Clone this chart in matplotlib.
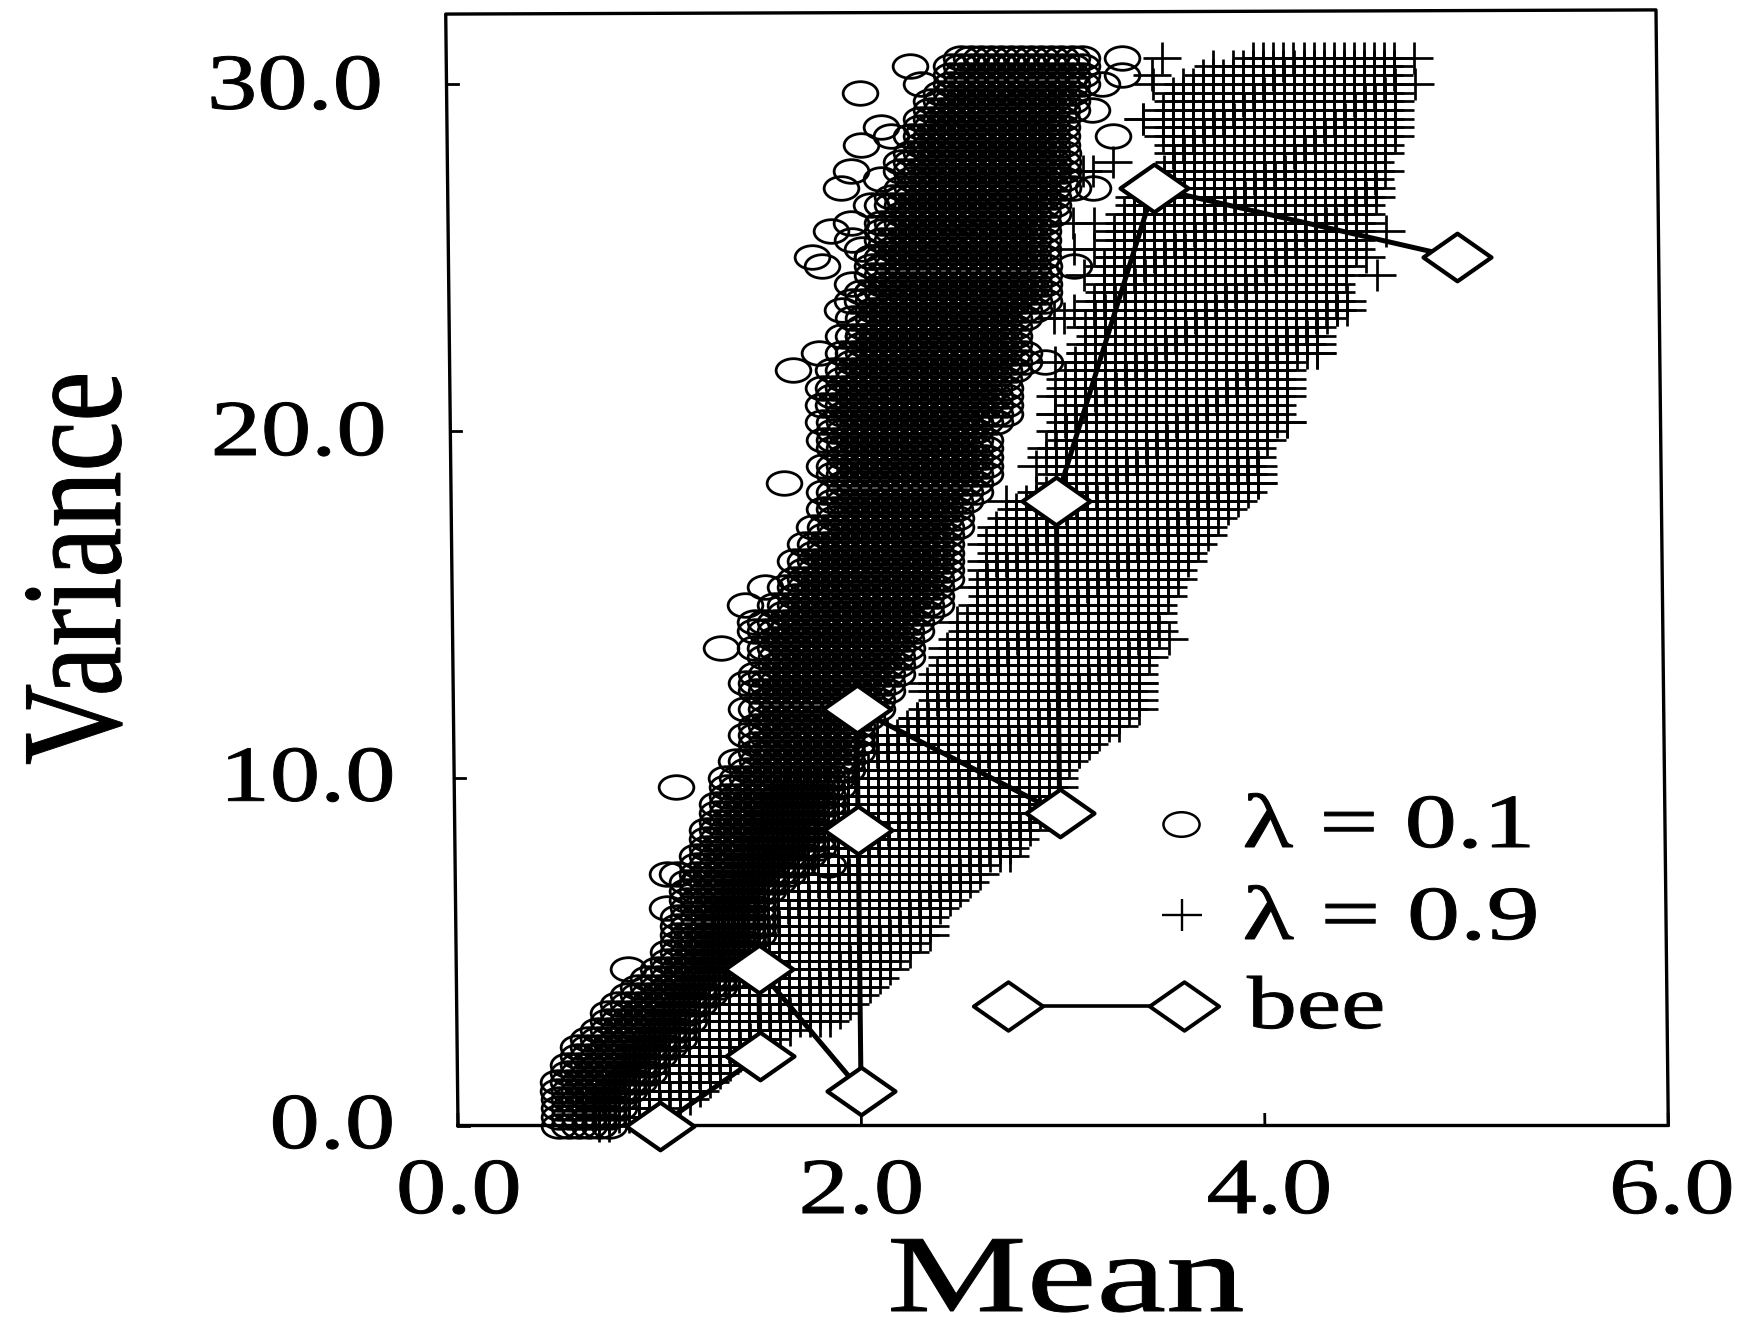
import numpy as np
import matplotlib
matplotlib.use("Agg")
import matplotlib.pyplot as plt
import matplotlib.patheffects as pe
from matplotlib.path import Path
from matplotlib.transforms import Affine2D

# Both clouds sit on a lattice (mean step 0.05, variance step 0.25). Each row below
# holds the first and last occupied mean, 4 rows per unit of variance.
row_variance = np.arange(124) * 0.25

plus_left = [
    0.70, 0.70, 0.70, 0.75, 0.75, 0.80, 0.85, 0.85, 0.90, 0.90, 0.95, 1.00,
    1.05, 1.05, 1.10, 1.15, 1.15, 1.20, 1.25, 1.25, 1.25, 1.30, 1.30, 1.30,
    1.30, 1.35, 1.35, 1.40, 1.40, 1.40, 1.45, 1.45, 1.50, 1.50, 1.55, 1.55,
    1.55, 1.60, 1.60, 1.65, 2.05, 2.05, 2.10, 2.10, 2.10, 2.10, 2.25, 2.30,
    2.35, 2.40, 2.35, 2.45, 2.40, 2.45, 2.45, 2.50, 2.50, 2.55, 2.55, 2.60,
    2.60, 2.65, 2.60, 2.65, 2.65, 2.65, 2.70, 2.65, 2.70, 2.70, 2.75, 2.80,
    2.85, 2.90, 3.00, 3.00, 3.00, 3.05, 2.95, 3.05, 3.00, 3.05, 3.05, 3.10,
    3.00, 3.05, 3.05, 3.10, 3.10, 3.15, 3.15, 3.20, 3.15, 3.20, 3.20, 3.25,
    3.25, 3.25, 3.25, 3.25, 3.30, 3.30, 3.30, 3.30, 3.35, 3.35, 3.40, 3.40,
    3.45, 3.50, 3.55, 3.60, 3.60, 3.60, 3.55, 3.55, 3.55, 3.55, 3.60, 3.60,
    3.70, 3.75, 3.90, 4.00,
]
plus_right = [
    0.75, 0.85, 1.00, 1.15, 1.20, 1.25, 1.30, 1.35, 1.45, 1.50, 1.55, 1.65,
    1.85, 1.90, 1.95, 2.00, 2.05, 2.10, 2.15, 2.15, 2.25, 2.25, 2.35, 2.35,
    2.35, 2.40, 2.45, 2.50, 2.55, 2.60, 2.60, 2.75, 2.75, 2.80, 2.85, 2.85,
    2.90, 2.90, 2.95, 3.00, 3.00, 3.00, 3.05, 3.10, 3.15, 3.20, 3.30, 3.30,
    3.35, 3.40, 3.40, 3.40, 3.40, 3.40, 3.45, 3.45, 3.45, 3.50, 3.50, 3.50,
    3.50, 3.55, 3.55, 3.60, 3.60, 3.65, 3.65, 3.70, 3.75, 3.75, 3.80, 3.85,
    3.90, 3.95, 4.00, 4.00, 4.00, 4.00, 4.00, 4.05, 4.05, 4.15, 4.10, 4.10,
    4.15, 4.15, 4.15, 4.15, 4.15, 4.30, 4.30, 4.30, 4.30, 4.35, 4.40, 4.45,
    4.40, 4.40, 4.45, 4.45, 4.45, 4.50, 4.50, 4.50, 4.55, 4.55, 4.55, 4.60,
    4.60, 4.60, 4.60, 4.60, 4.65, 4.65, 4.70, 4.70, 4.70, 4.70, 4.70, 4.70,
    4.70, 4.70, 4.70, 4.70,
]
circle_left = [
    0.50, 0.50, 0.50, 0.50, 0.50, 0.50, 0.55, 0.55, 0.60, 0.60, 0.65, 0.70,
    0.75, 0.75, 0.80, 0.85, 0.90, 0.95, 1.00, 1.05, 1.05, 1.10, 1.10, 1.10,
    1.10, 1.15, 1.15, 1.15, 1.15, 1.20, 1.20, 1.20, 1.25, 1.25, 1.25, 1.30,
    1.30, 1.30, 1.35, 1.35, 1.35, 1.45, 1.40, 1.50, 1.50, 1.45, 1.50, 1.55,
    1.45, 1.55, 1.50, 1.45, 1.50, 1.60, 1.55, 1.50, 1.60, 1.50, 1.55, 1.65,
    1.60, 1.70, 1.65, 1.70, 1.75, 1.70, 1.80, 1.75, 1.85, 1.80, 1.90, 1.85,
    1.90, 1.85, 1.95, 1.90, 1.85, 1.95, 1.90, 1.85, 1.90, 1.85, 1.95, 1.85,
    1.90, 1.85, 1.95, 1.90, 2.00, 1.95, 2.05, 1.95, 2.05, 2.00, 2.10, 2.05,
    2.05, 2.15, 2.10, 2.10, 2.10, 2.20, 2.15, 2.15, 2.15, 2.25, 2.15, 2.20,
    2.25, 2.30, 2.25, 2.30, 2.30, 2.35, 2.30, 2.35, 2.35, 2.40, 2.40, 2.45,
    2.50, 2.50, 2.50, 2.55,
]
circle_right = [
    0.75, 0.75, 0.80, 0.80, 0.85, 0.90, 0.95, 0.95, 1.00, 1.05, 1.10, 1.10,
    1.15, 1.15, 1.20, 1.25, 1.30, 1.35, 1.40, 1.40, 1.45, 1.45, 1.50, 1.50,
    1.50, 1.50, 1.50, 1.55, 1.60, 1.65, 1.70, 1.75, 1.80, 1.80, 1.80, 1.80,
    1.85, 1.85, 1.85, 1.90, 1.90, 1.95, 1.95, 2.00, 2.00, 2.00, 2.00, 2.05,
    2.10, 2.10, 2.15, 2.15, 2.20, 2.20, 2.25, 2.25, 2.25, 2.30, 2.30, 2.35,
    2.40, 2.40, 2.40, 2.45, 2.45, 2.45, 2.45, 2.45, 2.45, 2.50, 2.50, 2.50,
    2.55, 2.60, 2.60, 2.65, 2.65, 2.65, 2.65, 2.65, 2.60, 2.70, 2.75, 2.75,
    2.75, 2.75, 2.75, 2.80, 2.85, 2.85, 2.80, 2.80, 2.80, 2.85, 2.90, 2.95,
    2.95, 2.95, 2.95, 2.95, 2.95, 2.95, 2.95, 2.95, 2.95, 3.00, 3.00, 3.00,
    3.05, 3.05, 3.05, 3.05, 3.05, 3.05, 3.05, 3.05, 3.05, 3.10, 3.10, 3.10,
    3.15, 3.15, 3.15, 3.15,
]

# marks that stand apart from the filled rows
circle_extra_mean = [0.85, 1.05, 1.05, 1.10, 1.85, 1.10, 1.65, 1.70, 1.55, 1.33, 1.83, 2.05, 2.30, 2.35, 2.15,
                     2.05, 2.00, 1.95, 2.00, 1.90, 2.00, 1.80, 1.85, 2.10, 2.00, 2.00, 3.35, 3.35, 3.30, 3.25,
                     3.20, 3.10, 3.20, 3.10, 2.95, 2.20, 2.25, 2.15, 2.10, 2.05, 2.10, 2.05, 1.95, 1.45, 1.50]
circle_extra_var = [4.50, 6.25, 7.25, 7.25, 7.50, 9.75, 18.50, 21.75, 15.50, 13.75, 22.25, 29.75, 30.50, 30.00,
                    28.75, 28.25, 27.50, 27.00, 26.00, 25.75, 25.50, 25.00, 24.75, 25.00, 24.25, 23.75, 30.75,
                    30.25, 28.50, 30.00, 29.25, 27.00, 27.00, 24.75, 22.00, 28.50, 27.75, 27.25, 26.50, 25.25,
                    24.00, 22.75, 23.50, 15.00, 14.50]
plus_extra_mean = [3.55, 3.50, 3.65, 3.80, 3.45, 3.20, 3.20, 3.15, 3.05, 3.15, 3.00, 3.00, 4.60, 4.55, 4.65,
                   4.65, 4.60, 4.80, 4.80, 4.15, 4.30, 4.45, 4.40, 4.00, 3.55, 3.10, 3.40, 3.40, 2.50, 2.45,
                   2.40, 2.35, 2.30, 2.25, 3.00, 2.90, 2.95, 3.05, 2.75, 2.80, 2.70, 3.00, 3.10, 3.00, 3.20,
                   3.10, 3.30, 3.20, 3.10, 3.15, 3.45, 3.50, 3.30]
plus_extra_var = [30.75, 30.00, 30.00, 30.50, 29.00, 27.50, 25.25, 24.50, 23.25, 22.25, 20.50, 19.00, 24.50,
                  25.00, 25.75, 27.50, 27.50, 30.75, 30.00, 20.25, 22.25, 23.50, 23.50, 18.50, 14.00, 10.75,
                  12.00, 12.75, 14.50, 13.75, 12.75, 12.75, 11.75, 10.75, 20.50, 19.00, 19.25, 20.00, 18.00,
                  17.50, 17.00, 23.25, 23.50, 22.00, 23.75, 25.25, 25.00, 26.00, 26.00, 27.50, 29.00, 30.25,
                  27.75]

bee_mean = [1.0, 1.5, 1.5, 2.0, 2.0, 2.0, 3.0, 3.0, 3.5, 5.0]
bee_var = [0.0, 2.0, 4.5, 1.0, 8.5, 12.0, 9.0, 18.0, 27.0, 25.0]

x_ticks = [0.0, 2.0, 4.0, 6.0]
y_ticks = [0.0, 10.0, 20.0, 30.0]
x_tick_labels = ["0.0", "2.0", "4.0", "6.0"]
y_tick_labels = ["0.0", "10.0", "20.0", "30.0"]


def expand_rows(left, right):
    """Turns first/last occupied means per row into lattice points."""
    means, variances = [], []
    for v, a, b in zip(row_variance, left, right):
        cells = np.arange(round(a / 0.05), round(b / 0.05) + 1) * 0.05
        means.extend(cells)
        variances.extend([v] * len(cells))
    return means, variances


class Stretch(pe.AbstractPathEffect):
    """The scan is wider than tall, so glyphs get stretched along their own axes."""

    def __init__(self, sx=1.0, sy=1.0, weight=0.7):
        super().__init__()
        self.sx = sx
        self.sy = sy
        self.weight = weight

    def draw_path(self, renderer, gc, tpath, affine, rgbFace=None):
        gc0 = renderer.new_gc()
        gc0.copy_properties(gc)
        gc0.set_linewidth(self.weight)
        renderer.draw_path(gc0, tpath, Affine2D().scale(self.sx, self.sy) + affine, rgbFace)
        gc0.restore()


plt.rcParams["font.family"] = ["Liberation Serif", "DejaVu Serif"]

ring = Path.unit_circle().transformed(Affine2D().scale(1, 0.68))
cross = Path([(-1, 0), (1, 0), (0, -0.8), (0, 0.8)],
             [Path.MOVETO, Path.LINETO, Path.MOVETO, Path.LINETO])
diamond = Path([(-1, 0), (0, 0.7), (1, 0), (0, -0.7), (-1, 0)],
               [Path.MOVETO, Path.LINETO, Path.LINETO, Path.LINETO, Path.CLOSEPOLY])

W, H = 1739, 1320
fig = plt.figure(figsize=(W / 100, H / 100), dpi=100)
ax = fig.add_axes([458 / W, (H - 1125.5) / H, 1210.3 / W, 1115.6 / H])
ax.set_xlim(0, 6)
ax.set_ylim(0, 32.13)
ax.axis("off")

# the scanned frame leans to the left going up
lean = Affine2D.from_values(1, 0, -0.0019, 1, 0, 0) + ax.transData

frame_mean = [0, 6, 6, 0, 0]
frame_var = [0, 0, 32.13, 32.01, 0]
ax.plot(frame_mean, frame_var, color="k", lw=2.4, transform=lean, clip_on=False, zorder=1)
for t in x_ticks:
    ax.plot([t, t], [0, 0.32], color="k", lw=2.0, transform=lean, clip_on=False, zorder=1)
for t in y_ticks:
    ax.plot([0, 0.055], [t, t], color="k", lw=2.0, transform=lean, clip_on=False, zorder=1)

plus_mean, plus_var = expand_rows(plus_left, plus_right)
circle_mean, circle_var = expand_rows(circle_left, circle_right)

ax.plot(plus_mean + plus_extra_mean, plus_var + plus_extra_var, ls="none", marker=cross, ms=28,
        mfc="none", mec="k", mew=1.95, transform=lean, clip_on=False, zorder=2)
ax.plot(circle_mean + circle_extra_mean, circle_var + circle_extra_var, ls="none", marker=ring, ms=25,
        mfc="none", mec="k", mew=2.0, transform=lean, clip_on=False, zorder=3)
ax.plot(bee_mean, bee_var, color="k", lw=3.6, marker=diamond, ms=49, mfc="white", mec="k", mew=3.0,
        transform=lean, clip_on=False, zorder=4)

# text and legend are placed in picture pixels
over = fig.add_axes([0, 0, 1, 1])
over.set_xlim(0, W)
over.set_ylim(H, 0)
over.axis("off")


def put(x, y, s, size, sx=1.0, sy=1.0, rotation=0):
    over.text(x, y, s, fontsize=size, ha="left", va="baseline", rotation=rotation,
              rotation_mode="anchor", color="k", path_effects=[Stretch(sx, sy)])


for x, s in zip([396, 798.5, 1206.6, 1609], x_tick_labels):
    put(x, 1213, s, 57, sx=1.27)
for (x, y), s in zip([(269.5, 1148), (219.6, 800.7), (210.7, 455), (207, 108.7)], y_tick_labels):
    put(x, y, s, 57, sx=1.27)
# small nominal size plus scale keeps the box of this low-lying label inside the figure
put(887, 1311, "Mean", 30, sx=3.77, sy=2.63)
put(120, 765, "Variance", 81, sy=1.27, rotation=90)

put(1242.5, 847, "λ = 0.1", 55, sx=1.37)
put(1242.5, 939, "λ = 0.9", 55, sx=1.39)
put(1247, 1028, "bee", 54, sx=1.33)

over.plot([1181], [824], ls="none", marker=ring, ms=26, mfc="none", mec="k", mew=1.8)
over.plot([1182], [915], ls="none", marker=cross, ms=29, mfc="none", mec="k", mew=1.7)
over.plot([1008, 1183.6], [1006, 1006], color="k", lw=2.6, marker=diamond, ms=50, mfc="white",
          mec="k", mew=2.8)

fig.savefig("out.png", dpi=100, facecolor="white")
